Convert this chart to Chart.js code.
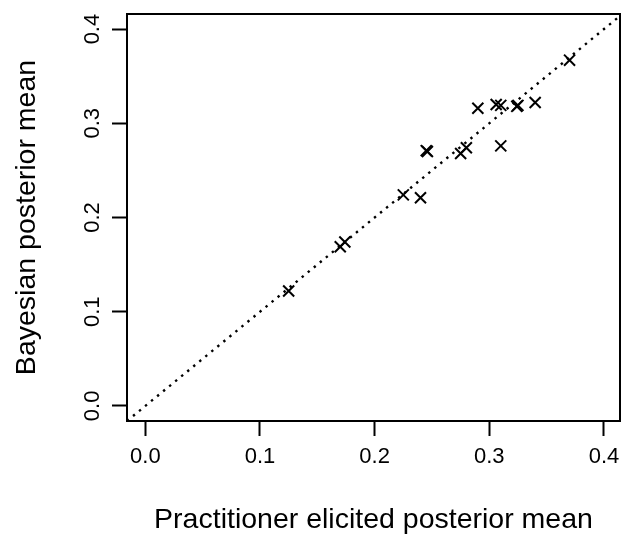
<!DOCTYPE html>
<html>
<head>
<meta charset="utf-8">
<script src="https://cdn.jsdelivr.net/npm/chart.js@4/dist/chart.umd.min.js"></script>
<style>
  html, body { margin: 0; padding: 0; background: #fff; }
  canvas { display: block; }
</style>
</head>
<body>
<canvas id="c" width="621" height="537"></canvas>
<script>
// Posterior means per item: practitioner-elicited vs Bayesian
const practitionerMean = [0.125, 0.170, 0.174, 0.225, 0.240, 0.245, 0.246, 0.275, 0.280,
                          0.290, 0.306, 0.310, 0.310, 0.324, 0.325, 0.340, 0.370];
const bayesianMean     = [0.122, 0.169, 0.174, 0.224, 0.221, 0.271, 0.270, 0.268, 0.274,
                          0.316, 0.320, 0.319, 0.276, 0.318, 0.319, 0.322, 0.367];

// Axis limits and tick values
const xLimits = [-0.016, 0.414];
const yLimits = [-0.016, 0.416];
const tickValues = [0.0, 0.1, 0.2, 0.3, 0.4];
// Identity line y = x spanning the plotting region
const identityLine = [-0.016, 0.42];

const xTitle = 'Practitioner elicited posterior mean';
const yTitle = 'Bayesian posterior mean';

const FONT = "'Liberation Sans', Arial, sans-serif";

const points = practitionerMean.map((x, i) => ({ x: x, y: bayesianMean[i] }));
const diagonal = identityLine.map(v => ({ x: v, y: v }));

// Frame around the plotting region
const boxPlugin = {
  id: 'box',
  afterDraw(chart) {
    const { ctx, chartArea: a } = chart;
    ctx.save();
    ctx.strokeStyle = '#000';
    ctx.lineWidth = 2;
    ctx.strokeRect(a.left, a.top, a.right - a.left, a.bottom - a.top);
    ctx.restore();
  }
};

const fixedTicks = (scale) => {
  scale.ticks = tickValues.map(v => ({ value: v }));
};

new Chart(document.getElementById('c'), {
  type: 'scatter',
  data: {
    datasets: [
      {
        data: diagonal,
        showLine: true,
        borderColor: '#000',
        borderWidth: 2.4,
        borderDash: [2.4, 5.4],
        pointRadius: 0,
        fill: false
      },
      {
        data: points,
        pointStyle: 'crossRot',
        pointRadius: 7.8,
        pointHoverRadius: 7.8,
        pointBorderWidth: 2,
        borderColor: '#000',
        backgroundColor: '#000'
      }
    ]
  },
  options: {
    responsive: false,
    animation: false,
    events: [],
    layout: {
      autoPadding: false,
      padding: { top: 14, right: 1, left: 0, bottom: 0 }
    },
    plugins: {
      legend: { display: false },
      tooltip: { enabled: false }
    },
    scales: {
      x: {
        type: 'linear',
        min: xLimits[0],
        max: xLimits[1],
        afterBuildTicks: fixedTicks,
        afterFit(scale) {
          scale.height = 116;
          scale.paddingLeft = 0;
          scale.paddingRight = 0;
        },
        border: { display: false },
        grid: {
          drawOnChartArea: false,
          drawTicks: true,
          tickLength: 15,
          tickWidth: 2,
          tickColor: '#000'
        },
        ticks: {
          color: '#000',
          font: { family: FONT, size: 22 },
          padding: 8,
          maxRotation: 0,
          minRotation: 0,
          callback: v => v.toFixed(1)
        },
        title: {
          display: true,
          text: xTitle,
          color: '#000',
          font: { family: FONT, size: 28.5 },
          padding: { top: 0, bottom: 0 }
        }
      },
      y: {
        type: 'linear',
        min: yLimits[0],
        max: yLimits[1],
        afterBuildTicks: fixedTicks,
        afterFit(scale) {
          scale.width = 127;
          scale.paddingTop = 0;
          scale.paddingBottom = 0;
        },
        border: { display: false },
        grid: {
          drawOnChartArea: false,
          drawTicks: true,
          tickLength: 15,
          tickWidth: 2,
          tickColor: '#000'
        },
        ticks: {
          color: '#000',
          font: { family: FONT, size: 22 },
          padding: 4,
          crossAlign: 'center',
          minRotation: 90,
          maxRotation: 90,
          callback: v => v.toFixed(1)
        },
        title: {
          display: true,
          text: yTitle,
          color: '#000',
          font: { family: FONT, size: 28.5 },
          padding: { top: 10, bottom: 0 }
        }
      }
    }
  },
  plugins: [boxPlugin]
});
</script>
</body>
</html>
